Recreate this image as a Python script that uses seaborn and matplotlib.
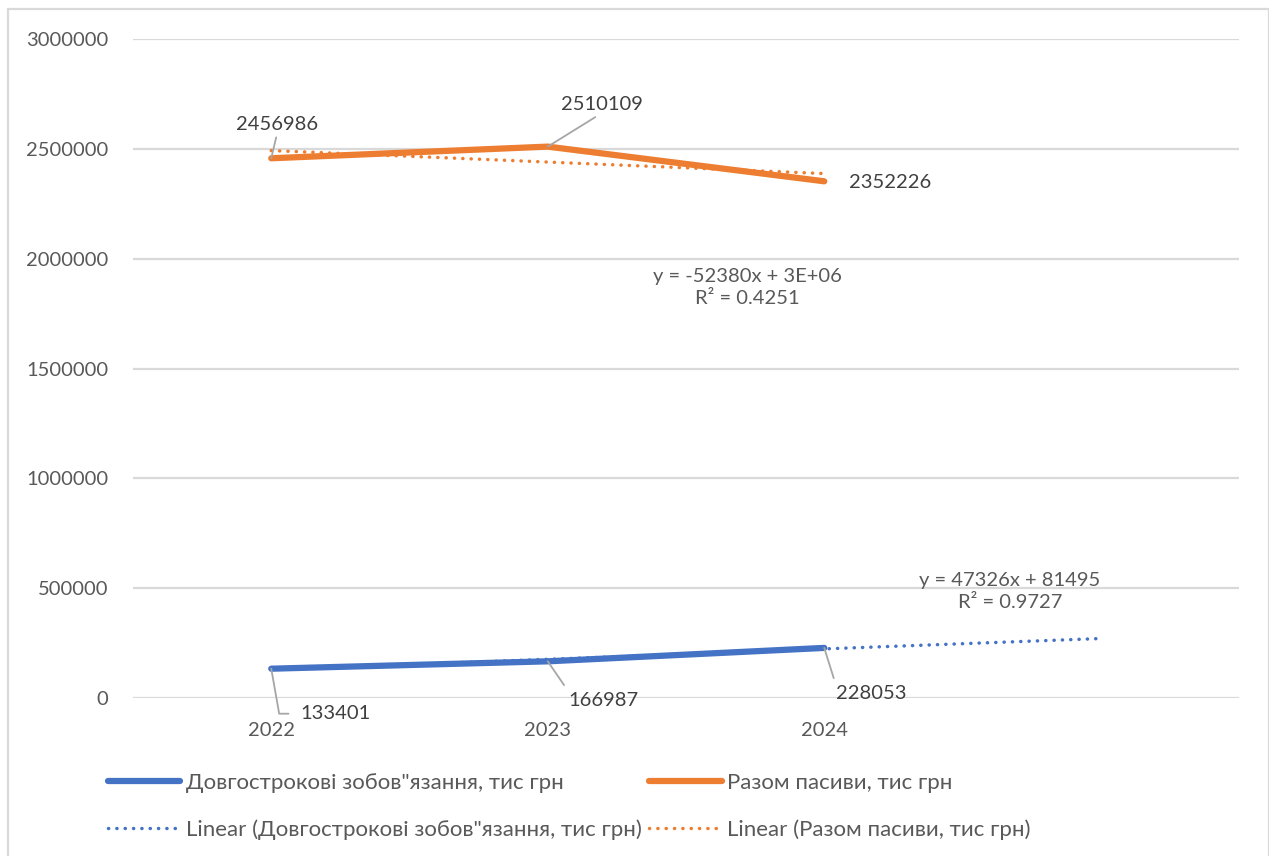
import numpy as np
import pandas as pd
import matplotlib
matplotlib.use("Agg")
import matplotlib.pyplot as plt
from matplotlib.lines import Line2D
from matplotlib.patches import Rectangle
import seaborn as sns

# ---- data ----
years = ["2022", "2023", "2024"]
long_term = [133401, 166987, 228053]        # Довгострокові зобов"язання, тис грн
total_liab = [2456986, 2510109, 2352226]    # Разом пасиви, тис грн
y_ticks = [0, 500000, 1000000, 1500000, 2000000, 2500000, 3000000]

name_lt = 'Довгострокові зобов"язання, тис грн'
name_tl = "Разом пасиви, тис грн"

BLUE = "#4472C4"
ORANGE = "#ED7D31"
GRID = "#D9D9D9"
TICK = "#595959"
LABEL = "#404040"

sns.set_theme(style="white")
plt.rcParams["font.family"] = ["Lato", "Open Sans", "DejaVu Sans"]
FS = 14.5
FS_LEG = 16

W, H = 1269, 856
fig = plt.figure(figsize=(W / 100, H / 100), dpi=100)
ax = fig.add_axes([133 / W, 1 - 698 / H, (1239 - 133) / W, (698 - 39) / H])

idx = np.arange(1, len(years) + 1)
df = pd.DataFrame({"idx": idx, "lt": long_term, "tl": total_liab})


def fit(values):
    slope, intercept = np.polyfit(idx, values, 1)
    pred = slope * idx + intercept
    vals = np.asarray(values, dtype=float)
    r2 = 1 - np.sum((vals - pred) ** 2) / np.sum((vals - vals.mean()) ** 2)
    return slope, intercept, r2


def fmt_coef(v):
    if abs(v) >= 1e6:
        return f"{v:.0E}"
    return f"{v:.0f}"


def equation(slope, intercept, r2):
    sign = "+" if intercept >= 0 else "-"
    return f"y = {fmt_coef(slope)}x {sign} {fmt_coef(abs(intercept))}\nR² = {r2:.4f}"


# trendlines (linear, the first one forecast one period forward)
s_lt, b_lt, r_lt = fit(long_term)
s_tl, b_tl, r_tl = fit(total_liab)
x_lt = np.array([1, len(years) + 1])
x_tl = np.array([1, len(years)])

dot = dict(lw=2.5, linestyle=(0, (0.05, 2.35)), dash_capstyle="round")
sns.lineplot(x=x_lt, y=s_lt * x_lt + b_lt, ax=ax, color=BLUE, zorder=3, **dot)
sns.lineplot(x=x_tl, y=s_tl * x_tl + b_tl, ax=ax, color=ORANGE, zorder=3, **dot)

# main series
solid = dict(lw=4.5, solid_capstyle="round", solid_joinstyle="round")
sns.lineplot(data=df, x="idx", y="lt", ax=ax, color=BLUE, zorder=4, **solid)
sns.lineplot(data=df, x="idx", y="tl", ax=ax, color=ORANGE, zorder=4, **solid)

# axes styling
ax.set_xlim(0.5, len(years) + 1.5)
ax.set_ylim(y_ticks[0], y_ticks[-1])
ax.set_yticks(y_ticks)
ax.set_yticklabels([str(t) for t in y_ticks])
ax.set_xticks(idx)
ax.set_xticklabels(years)
ax.set_xlabel("")
ax.set_ylabel("")
ax.grid(axis="y", color=GRID, lw=1.6)
ax.grid(axis="x", visible=False)
for sp in ax.spines.values():
    sp.set_visible(False)
ax.tick_params(axis="y", length=0, pad=18, labelsize=FS, labelcolor=TICK)
ax.tick_params(axis="x", length=0, pad=17, labelsize=FS, labelcolor=TICK)
ax.set_axisbelow(True)

# data labels with leader lines (offsets in pixels)
lead = dict(arrowstyle="-", color="#A6A6A6", lw=1.3, shrinkA=1, shrinkB=0)
tl_offsets = [(6, 34), (54, 42), (66, -1)]
lt_offsets = [(64, -45), (56, -39), (47, -46)]
tl_leader = [True, True, False]
for i, v in enumerate(total_liab):
    ax.annotate(str(v), xy=(idx[i], v), xytext=tl_offsets[i], textcoords="offset pixels",
                ha="center", va="center", fontsize=FS, color=LABEL, zorder=6,
                arrowprops=dict(lead, relpos=(0.5, 0.0)) if tl_leader[i] else None)
for i, v in enumerate(long_term):
    if i == 0:
        props = dict(lead, relpos=(0.0, 0.5), shrinkA=6,
                     connectionstyle="angle,angleA=0,angleB=100,rad=0")
    else:
        props = dict(lead, relpos=(0.0, 1.0), shrinkA=3)
    ax.annotate(str(v), xy=(idx[i], v), xytext=lt_offsets[i], textcoords="offset pixels",
                ha="center", va="center", fontsize=FS, color=LABEL, zorder=6,
                arrowprops=props)

# trendline equations
ax.annotate(equation(s_tl, b_tl, r_tl), xy=(x_tl[-1], s_tl * x_tl[-1] + b_tl),
            xytext=(-77, -114), textcoords="offset pixels", ha="center", va="center",
            multialignment="center", linespacing=1.35, fontsize=FS, color=TICK)
ax.annotate(equation(s_lt, b_lt, r_lt), xy=(x_lt[-1], s_lt * x_lt[-1] + b_lt),
            xytext=(-91, 47), textcoords="offset pixels", ha="center", va="center",
            multialignment="center", linespacing=1.35, fontsize=FS, color=TICK)

# legend
handles = [
    Line2D([], [], color=BLUE, **solid),
    Line2D([], [], color=BLUE, **dot),
    Line2D([], [], color=ORANGE, **solid),
    Line2D([], [], color=ORANGE, **dot),
]
labels = [name_lt, f"Linear ({name_lt})", name_tl, f"Linear ({name_tl})"]
leg = fig.legend(handles, labels, ncol=2, loc="upper left",
                 bbox_to_anchor=(108 / W, 1 - 773 / H), frameon=False,
                 fontsize=FS_LEG, handlelength=3.25, handletextpad=0.25,
                 columnspacing=0.35, labelspacing=1.18, borderpad=0, borderaxespad=0)
for t in leg.get_texts():
    t.set_color(TICK)

# chart frame
fig.add_artist(Rectangle((8 / W, -0.01), (W - 8) / W - 0.5 / W, 1 - 9 / H + 0.01,
                         transform=fig.transFigure, fill=False, ec=GRID, lw=1.6))

fig.savefig("out.png", dpi=100)
